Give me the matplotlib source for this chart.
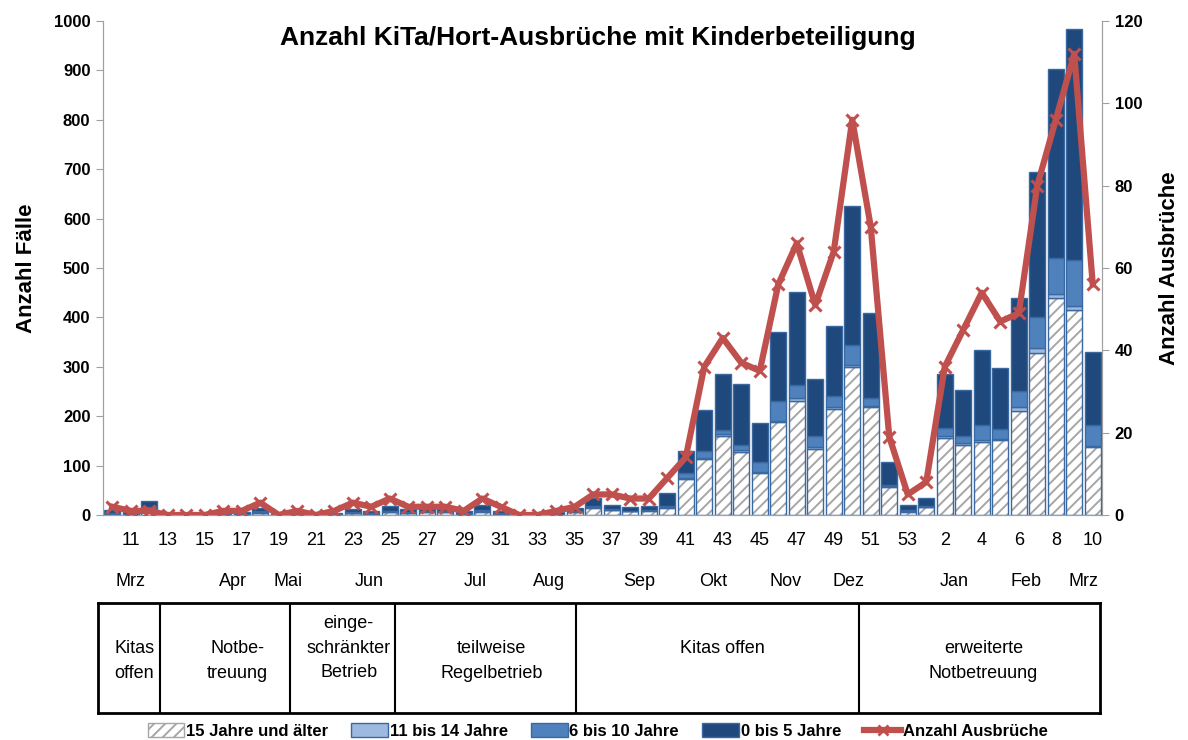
import matplotlib
matplotlib.use("Agg")

import matplotlib.pyplot as plt
import numpy as np
from matplotlib.patches import Patch
from matplotlib.lines import Line2D

# Kalenderwochen 10/2020 - 10/2021
weeks = list(range(10, 54)) + list(range(1, 11))

age_15plus = [3, 2, 10, 1, 1, 1, 2, 2, 5, 1, 2, 1, 2, 4, 3, 6, 5, 6, 6, 3,
              7, 3, 1, 1, 2, 6, 15, 10, 8, 9, 15, 72, 113, 160, 128, 85, 188, 231, 134, 215,
              300, 218, 57, 7, 17, 156, 142, 148, 152, 211, 328, 439, 414, 138]
age_11_14 = [1, 0, 3, 0, 0, 0, 0, 0, 1, 0, 0, 0, 0, 1, 0, 1, 1, 1, 1, 0,
             1, 0, 0, 0, 0, 1, 1, 1, 0, 1, 1, 3, 2, 3, 3, 3, 3, 5, 4, 3,
             4, 3, 1, 1, 0, 3, 3, 3, 2, 8, 10, 9, 9, 2]
age_6_10 = [1, 1, 4, 0, 0, 0, 0, 1, 2, 0, 0, 0, 0, 1, 1, 2, 1, 1, 1, 1,
            2, 1, 0, 0, 1, 1, 3, 1, 1, 1, 2, 10, 15, 10, 10, 20, 40, 28, 22, 23,
            40, 16, 3, 2, 2, 18, 15, 32, 20, 33, 62, 72, 93, 42]
age_0_5 = [5, 4, 11, 2, 1, 1, 2, 3, 6, 2, 3, 2, 3, 6, 4, 9, 6, 7, 8, 4,
           10, 4, 2, 2, 3, 6, 16, 8, 7, 7, 27, 45, 82, 112, 124, 79, 140, 187, 115, 141,
           281, 172, 47, 10, 15, 108, 93, 150, 123, 187, 294, 383, 468, 147]
outbreaks = [2, 1, 1, 0, 0, 0, 1, 1, 3, 0, 1, 0, 1, 3, 2, 4, 2, 2, 2, 1,
             4, 2, 0, 0, 1, 2, 5, 5, 4, 4, 9, 14, 36, 43, 37, 35, 56, 66, 51, 64,
             96, 70, 19, 5, 8, 36, 45, 54, 47, 49, 80, 96, 112, 56]

months = ["Mrz", "Apr", "Mai", "Jun", "Jul", "Aug", "Sep", "Okt", "Nov", "Dez",
          "Jan", "Feb", "Mrz"]
month_pos = [1.0, 6.5, 9.5, 13.9, 19.6, 23.6, 28.5, 32.5, 36.4, 39.8, 45.5, 49.4, 52.5]

phases = ["Kitas\noffen", "Notbe-\ntreuung", "einge-\nschränkter\nBetrieb",
          "teilweise\nRegelbetrieb", "Kitas offen", "erweiterte\nNotbetreuung"]
phase_bounds = [2.6, 9.6, 15.3, 25.1, 40.4]
phase_text_x = [1.2, 6.8, 12.8, 20.5, 33.0, 47.1]

# Farben
c_hatch = "#A6A6A6"
c_light = "#9DB9DF"
c_mid = "#4F81BD"
c_dark = "#1F497D"
c_edge = "#3A68A0"
c_red = "#C0504D"

plt.rcParams["font.family"] = ["Liberation Sans", "DejaVu Sans"]
plt.rcParams["hatch.linewidth"] = 1.4
plt.rcParams["hatch.color"] = c_hatch

x = np.arange(len(weeks))
a = np.array(age_15plus)
b = np.array(age_11_14)
c = np.array(age_6_10)
d = np.array(age_0_5)

fig = plt.figure(figsize=(11.88, 7.4), dpi=100)
ax = fig.add_axes([103 / 1188, 1 - 515 / 740, 999 / 1188, 494 / 740])

w = 0.86
# hatched part: hatch first, then blue outline
ax.bar(x, a, width=w, color="white", edgecolor=c_hatch, hatch="///", linewidth=0, zorder=2)
ax.bar(x, a, width=w, fill=False, edgecolor=c_edge, linewidth=1.0, zorder=3)
ax.bar(x, b, bottom=a, width=w, color=c_light, edgecolor=c_edge, linewidth=1.0, zorder=3)
ax.bar(x, c, bottom=a + b, width=w, color=c_mid, edgecolor=c_edge, linewidth=1.0, zorder=3)
ax.bar(x, d, bottom=a + b + c, width=w, color=c_dark, edgecolor=c_edge, linewidth=1.0, zorder=3)

ax.set_xlim(-0.5, len(weeks) - 0.5)
ax.set_ylim(0, 1000)
ax.set_yticks(np.arange(0, 1001, 100))
ax.tick_params(axis="y", labelsize=12, length=5, color="#A0A0A0", pad=4)
for lab in ax.get_yticklabels():
    lab.set_fontweight("bold")

ax.set_xticks(x[1::2])
ax.set_xticklabels([str(wk) for wk in weeks[1::2]], fontsize=13)
ax.tick_params(axis="x", length=0, pad=12)

ax.spines["top"].set_visible(False)
for s in ["left", "bottom", "right"]:
    ax.spines[s].set_color("#A0A0A0")

ax.set_ylabel("Anzahl Fälle", fontsize=16, fontweight="bold", labelpad=12)

for m, p in zip(months, month_pos):
    ax.text(p, -135, m, ha="center", va="center", fontsize=13)

ax.text(0.495, 0.99, "Anzahl KiTa/Hort-Ausbrüche mit Kinderbeteiligung",
        transform=ax.transAxes, ha="center", va="top", fontsize=19, fontweight="bold")

# Ausbrüche auf rechter Achse
ax2 = ax.twinx()
ax2.plot(x, outbreaks, color=c_red, linewidth=4.5, marker="x", markersize=9,
         markeredgewidth=2.2, zorder=5)
ax2.set_ylim(0, 120)
ax2.set_yticks(np.arange(0, 121, 20))
ax2.tick_params(axis="y", labelsize=12, length=5, color="#A0A0A0", pad=4)
for lab in ax2.get_yticklabels():
    lab.set_fontweight("bold")
ax2.spines["top"].set_visible(False)
for s in ["left", "bottom", "right"]:
    ax2.spines[s].set_color("#A0A0A0")
ax2.set_ylabel("Anzahl Ausbrüche", fontsize=16, fontweight="bold", labelpad=12)

# Tabelle mit Betreuungsphasen
tx0 = (98 - 112) / 18.5
tx1 = (1100 - 112) / 18.5
tab = fig.add_axes([98 / 1188, 1 - 713 / 740, 1002 / 1188, 110 / 740])
tab.set_xlim(tx0, tx1)
tab.set_ylim(0, 1)
tab.set_xticks([])
tab.set_yticks([])
for s in tab.spines.values():
    s.set_linewidth(2)
    s.set_color("black")
for bnd in phase_bounds:
    tab.axvline(bnd, color="black", linewidth=1.5)
for txt, px in zip(phases, phase_text_x):
    n = txt.count("\n") + 1
    yc = {1: 0.59, 2: 0.473, 3: 0.59}[n]
    tab.text(px, yc, txt, ha="center", va="center", fontsize=13, linespacing=1.55)

handles = [
    Patch(facecolor="white", edgecolor=c_hatch, hatch="///"),
    Patch(facecolor=c_light, edgecolor=c_edge),
    Patch(facecolor=c_mid, edgecolor=c_edge),
    Patch(facecolor=c_dark, edgecolor=c_edge),
    Line2D([], [], color=c_red, linewidth=4.5, marker="x", markersize=7, markeredgewidth=2),
]
labels = ["15 Jahre und älter", "11 bis 14 Jahre", "6 bis 10 Jahre", "0 bis 5 Jahre",
          "Anzahl Ausbrüche"]
fig.legend(handles, labels, loc="center", bbox_to_anchor=(0.503, 1 - 731 / 740), ncol=5,
           frameon=False, handlelength=2.2, handleheight=0.9, handletextpad=0.1,
           columnspacing=1.4, prop={"weight": "bold", "size": 12})

fig.savefig("out.png", dpi=100)
